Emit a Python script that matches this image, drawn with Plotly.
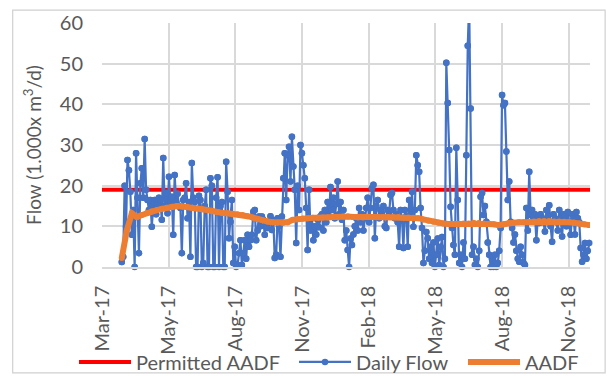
import pandas as pd
import plotly.graph_objects as go

# Daily flow readings (1.000x m3/d), evenly spaced from first to last reading
daily_start = "2017-03-28"
daily_end = "2018-12-26"
daily_flow = [
    1.2, 2.5, 20, 9.9, 26.3, 23.8, 18.5,
    7.9, 14, 0, 28, 17, 3.4, 20.6,
    24.3, 17, 31.5, 19, 16.5, 14, 16.5,
    9.9, 15, 16.5, 13, 15.5, 17, 16.5,
    11.6, 26.8, 15, 18.2, 13.2, 22.2, 16,
    17.3, 7.9, 22.6, 16, 18, 15, 14.5,
    3.4, 16.5, 17, 20.6, 12, 16, 2.5,
    25.6, 17, 16, 0, 0, 17.5, 16.5,
    0, 1, 15, 19, 0, 0, 21.8,
    20, 0, 0, 17, 22.1, 0, 15,
    16, 0, 0, 25.9, 18.5, 7.1, 11.1,
    16.5, 1, 5, 0, 0.5, 3.4, 6.6,
    0.5, 3.4, 6.6, 2, 7.9, 5, 6.6,
    7.9, 13.6, 14, 6.6, 9, 12.4, 10,
    12.4, 11.6, 7.9, 10.5, 9.6, 11, 12.5,
    9.1, 11.5, 2.2, 3, 12, 10, 2.5,
    12.4, 21.8, 28, 16.5, 27.5, 29.6, 21,
    32, 24.7, 19, 5.9, 20, 14, 30,
    28, 25, 21.8, 14.5, 4.2, 19, 9,
    12, 6.6, 10, 8, 11.6, 9.8, 12.5,
    13, 9, 14, 11, 16, 12.5, 19.7,
    14, 17, 12, 15.5, 21, 13, 16,
    11.6, 14, 6.6, 9, 4.2, 0, 7,
    5.4, 8, 10, 12, 9, 14.5, 11,
    13, 9, 12, 14.5, 17, 11, 14.5,
    19.4, 20.2, 7.1, 15, 16.5, 12, 14,
    13, 15, 10, 9.6, 14, 13, 17.7,
    18.2, 14, 12, 13, 11, 5, 14,
    12, 4.7, 14, 12.4, 5, 16.5, 13,
    18.5, 9.9, 14, 27.5, 25, 23.4, 14.5,
    9.6, 1, 4, 8.6, 7.1, 2, 5,
    1, 6, 0, 3, 7, 0.5, 5,
    7.4, 0, 2, 50.2, 40.3, 28.8, 14.8,
    9.6, 5.4, 3, 29.3, 16.5, 1, 3,
    0, 6, 2, 27.5, 54.4, 65, 39,
    3, 5, 0.5, 2, 0, 4, 17.3,
    18.2, 12.8, 15, 11.1, 6, 3, 0,
    2, 0, 3, 0, 1, 4, 9.6,
    42.3, 39.8, 40.3, 28.4, 16.5, 21, 11.1,
    9.6, 6, 8, 4, 2, 1.3, 5,
    3, 1, 0.5, 14.5, 9, 23.4, 12.8,
    14, 12, 13, 6.6, 12, 10.8, 13,
    12, 11, 8.7, 14, 12.5, 15.2, 10,
    6.2, 13, 12, 11, 9, 14, 12,
    7.5, 13, 12.5, 10, 13.5, 11, 7.9,
    13, 12, 8, 13.5, 12, 11, 4.7,
    1.3, 3, 5.9, 2, 4, 5.9,
]

# Running average daily flow (AADF)
aadf = [
    2.2, 9, 13.2, 12.3, 12.8, 13.3, 13.7, 14, 14.3, 14.6,
    14.8, 15, 14.9, 14.8, 14.6, 14.4, 14.2, 14, 13.7, 13.5,
    13.3, 13.2, 13.1, 13, 12.8, 12.5, 12.2, 11.8, 11.5, 11.2,
    11, 10.9, 10.8, 11, 11.6, 11.8, 11.9, 12, 12.1, 12.1,
    12.2, 12.2, 12.3, 12.3, 12.4, 12.4, 12.3, 12.2, 12.2, 12.3,
    12.3, 12.3, 12.3, 12.3, 12.3, 12.3, 12.2, 12.2, 12.1, 12,
    11.7, 11.4, 11.1, 10.9, 10.7, 10.6, 10.6, 10.6, 10.7, 10.7,
    10.9, 10.8, 10.7, 10.6, 10.5, 10.3, 10.5, 10.8, 10.9, 11,
    11, 11.1, 11.2, 11.3, 11.3, 11.3, 11.2, 11.2, 11.1, 11,
    10.9, 10.7, 10.5, 10.3,
]

# Permitted AADF limit across the whole period
permit_dates = ["2017-03-01", "2018-12-27"]
permit_value = [19, 19]

tick_dates = ["2017-03-01", "2017-05-31", "2017-08-30", "2017-11-29",
              "2018-02-28", "2018-05-30", "2018-08-29", "2018-11-28"]
tick_labels = ["Mar-17", "May-17", "Aug-17", "Nov-17",
               "Feb-18", "May-18", "Aug-18", "Nov-18"]

Y_MAX = 60
daily_dates = pd.date_range(daily_start, daily_end, periods=len(daily_flow))
aadf_dates = pd.date_range(daily_start, daily_end, periods=len(aadf))
# dots that sit inside the value range, drawn unclipped so the zero readings show whole
daily_dots = [v if v <= Y_MAX else None for v in daily_flow]

FONT = "Lato"
GREY = "#595959"
GRID = "#D9D9D9"
BLUE = "#4472C4"
ORANGE = "#ED7D31"

fig = go.Figure()
fig.add_trace(go.Scatter(
    x=permit_dates, y=permit_value, name="Permitted AADF", mode="lines",
    line=dict(color="#FF0000", width=4), legend="legend",
))
fig.add_trace(go.Scatter(
    x=daily_dates, y=daily_flow, name="Daily Flow", mode="lines+markers",
    line=dict(color=BLUE, width=2.2),
    marker=dict(color=BLUE, size=6.5), legend="legend2",
))
fig.add_trace(go.Scatter(
    x=daily_dates, y=daily_dots, mode="markers", showlegend=False,
    marker=dict(color=BLUE, size=6.5), cliponaxis=False, hoverinfo="skip",
))
fig.add_trace(go.Scatter(
    x=aadf_dates, y=aadf, name="AADF", mode="lines+markers",
    line=dict(color=ORANGE, width=6),
    marker=dict(color=ORANGE, size=6), legend="legend3",
))

leg_common = dict(orientation="h", y=-0.389, yanchor="middle", xanchor="left",
                  font=dict(family=FONT, size=20, color=GREY),
                  bgcolor="rgba(0,0,0,0)", itemwidth=52)

fig.update_layout(
    width=607, height=376,
    margin=dict(l=102, r=17, t=23, b=109, autoexpand=False),
    paper_bgcolor="white", plot_bgcolor="white",
    font=dict(family=FONT, size=20, color=GREY),
    showlegend=True,
    legend=dict(x=(74 - 102) / 488, **leg_common),
    legend2=dict(x=(294 - 102) / 488, **leg_common),
    legend3=dict(x=(463 - 102) / 488, **leg_common),
    shapes=[dict(type="rect", xref="paper", yref="paper",
                 x0=-0.183, x1=1.031, y0=-0.434, y1=1.053,
                 line=dict(color="#D0D0D0", width=1.2), layer="below")],
)
fig.update_xaxes(
    type="date", range=["2017-03-01", "2018-12-27"], automargin=False,
    tickmode="array", tickvals=tick_dates, ticktext=tick_labels,
    tickangle=-90, ticklabelstandoff=9,
    tickfont=dict(family=FONT, size=20, color=GREY),
    showgrid=True, gridcolor=GRID, gridwidth=1.5,
    showline=True, linecolor=GRID, linewidth=1.5,
    zeroline=False, ticks="",
)
fig.update_yaxes(
    range=[0, Y_MAX], dtick=10, tickmode="linear", tick0=0, automargin=False,
    tickfont=dict(family=FONT, size=20, color=GREY),
    showgrid=True, gridcolor=GRID, gridwidth=1.5,
    zeroline=False, showline=False, ticks="", ticklabelstandoff=18,
    title=dict(text="Flow (1.000x m<sup>3</sup>/d)", standoff=13,
               font=dict(family=FONT, size=19, color=GREY)),
)

fig.write_html("out.html")
